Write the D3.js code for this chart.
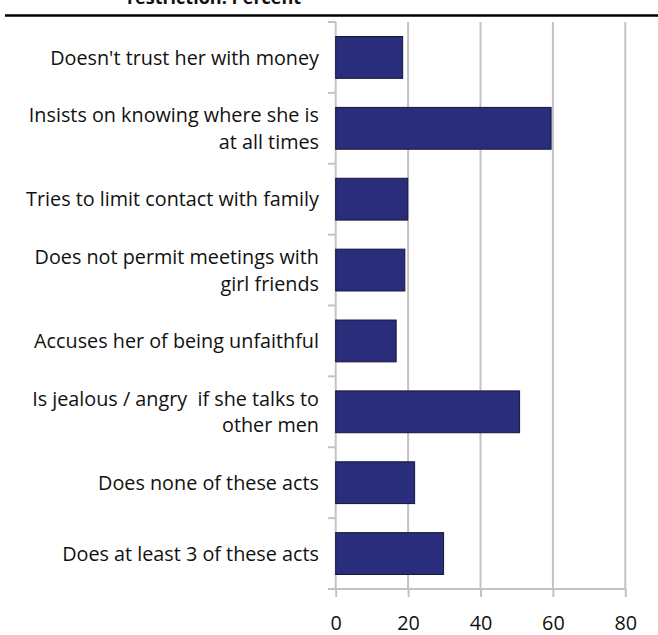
<!DOCTYPE html>
<html>
<head>
<meta charset="utf-8">
<script src="https://cdn.jsdelivr.net/npm/d3@7"></script>
<style>
  html, body { margin: 0; padding: 0; background: #fff; }
  svg { display: block; }
  text { font-family: "Open Sans", sans-serif; fill: #111; white-space: pre; }
</style>
</head>
<body>
<svg id="chart" width="658" height="635"></svg>
<script>
// Share of women reporting each controlling behaviour by the partner (percent)
const categories = [
  "Doesn't trust her with money",
  "Insists on knowing where she is\nat all times",
  "Tries to limit contact with family",
  "Does not permit meetings with\ngirl friends",
  "Accuses her of being unfaithful",
  "Is jealous / angry  if she talks to\nother men",
  "Does none of these acts",
  "Does at least 3 of these acts"
];
const values = [18.5, 59.5, 19.9, 19.1, 16.7, 50.8, 21.8, 29.8];
const xTicks = [0, 20, 40, 60, 80];
const titleText = "restriction: Percent";

const svg = d3.select("#chart");

const x = d3.scaleLinear().domain([0, 80]).range([335.7, 625.3]);
const y = d3.scaleBand().domain(categories).range([22, 589])
  .paddingInner(0.41).paddingOuter(0.205);

const gridColor = "#c3c3c3";
const labelSize = "19.8px";

// title (last line) and rule under it
svg.append("text")
  .attr("x", 214).attr("y", 4)
  .attr("text-anchor", "middle")
  .style("font-weight", "bold")
  .style("font-size", "18px")
  .text(titleText);
svg.append("line")
  .attr("x1", 5).attr("x2", 658)
  .attr("y1", 15.5).attr("y2", 15.5)
  .attr("stroke", "#000").attr("stroke-width", 2.5);

// vertical gridlines
svg.append("g").selectAll("line")
  .data(xTicks.filter(d => d > 0))
  .join("line")
  .attr("x1", d => x(d)).attr("x2", d => x(d))
  .attr("y1", 22).attr("y2", 589)
  .attr("stroke", gridColor).attr("stroke-width", 2);

// bottom axis
const xAxis = d3.axisBottom(x).tickValues(xTicks).tickSize(8).tickPadding(10).tickSizeOuter(0);
const gx = svg.append("g").attr("transform", "translate(0,589)").call(xAxis);
gx.select(".domain").remove();
gx.selectAll(".tick line").attr("stroke", gridColor).attr("stroke-width", 2);
gx.selectAll(".tick text")
  .attr("y", 0).attr("dy", null)
  .attr("transform", "translate(0,41)")
  .style("font-size", labelSize).style("font-family", "'Open Sans', sans-serif")
  .attr("fill", "#111");
svg.append("line")
  .attr("x1", 328).attr("x2", x(80))
  .attr("y1", 589).attr("y2", 589)
  .attr("stroke", gridColor).attr("stroke-width", 2);

// left axis line and category separators
svg.append("line")
  .attr("x1", x(0)).attr("x2", x(0))
  .attr("y1", 22).attr("y2", 589)
  .attr("stroke", gridColor).attr("stroke-width", 2);
const step = y.step();
const bounds = d3.range(categories.length).map(i => 22 + i * step);
svg.append("g").selectAll("line")
  .data(bounds)
  .join("line")
  .attr("x1", 328).attr("x2", x(0))
  .attr("y1", d => d).attr("y2", d => d)
  .attr("stroke", gridColor).attr("stroke-width", 2);

// bars
svg.append("g").selectAll("rect")
  .data(values)
  .join("rect")
  .attr("x", x(0))
  .attr("y", (d, i) => y(categories[i]))
  .attr("width", d => x(d) - x(0))
  .attr("height", y.bandwidth())
  .attr("fill", "#2a2d7b")
  .attr("stroke", "#15153a")
  .attr("stroke-width", 1);

// category labels
const lineH = 26.6;
const labels = svg.append("g").selectAll("text")
  .data(categories)
  .join("text")
  .attr("text-anchor", "end")
  .style("font-size", labelSize);
labels.each(function (d) {
  const lines = d.split("\n");
  const cy = y(d) + y.bandwidth() / 2;
  const t = d3.select(this);
  lines.forEach((ln, k) => {
    t.append("tspan")
      .attr("x", 319)
      .attr("y", cy + 7.3 + (k - (lines.length - 1) / 2) * lineH)
      .text(ln);
  });
});
</script>
</body>
</html>
